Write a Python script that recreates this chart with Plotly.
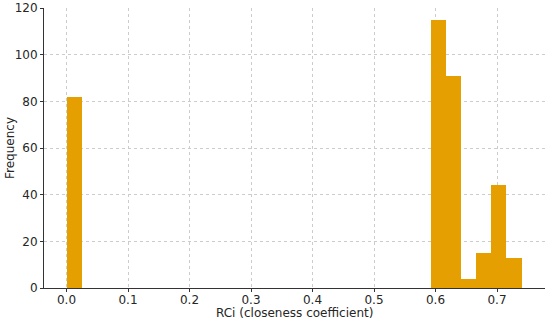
import plotly.graph_objects as go

# histogram bins (left edges) and counts, 30 bins over 0..0.74
BIN_WIDTH = 0.74 / 30
bin_left = [0.0, 24 * BIN_WIDTH, 25 * BIN_WIDTH, 26 * BIN_WIDTH, 27 * BIN_WIDTH, 28 * BIN_WIDTH, 29 * BIN_WIDTH]
counts = [82, 115, 91, 4, 15, 44, 13]
x_ticks = [0.0, 0.1, 0.2, 0.3, 0.4, 0.5, 0.6, 0.7]
y_ticks = [0, 20, 40, 60, 80, 100, 120]

BAR_COLOR = "#E69F00"
TEXT_COLOR = "#262626"
GRID_COLOR = "#cccccc"

fig = go.Figure()
fig.add_trace(
    go.Bar(
        x=[b + BIN_WIDTH / 2 for b in bin_left],
        y=counts,
        width=BIN_WIDTH,
        marker=dict(color=BAR_COLOR, line_width=0),
        showlegend=False,
    )
)

fig.update_layout(
    width=550,
    height=322,
    margin=dict(l=44, r=5, t=8, b=34, autoexpand=False),
    paper_bgcolor="white",
    plot_bgcolor="white",
    font=dict(family="DejaVu Sans", size=12, color=TEXT_COLOR),
    bargap=0,
)
fig.update_xaxes(
    range=[-0.0366, 0.778],
    tickvals=x_ticks,
    tickformat=".1f",
    automargin=False,
    showline=True,
    linecolor="#333333",
    linewidth=1,
    ticks="outside",
    ticklen=3,
    tickcolor="#333333",
    ticklabelstandoff=-2,
    showgrid=True,
    gridcolor=GRID_COLOR,
    griddash="dot",
    gridwidth=1,
    zeroline=False,
)
fig.update_yaxes(
    range=[0, 120],
    tickvals=y_ticks,
    automargin=False,
    showline=True,
    linecolor="#333333",
    linewidth=1,
    ticks="outside",
    ticklen=3,
    tickcolor="#333333",
    showgrid=True,
    gridcolor=GRID_COLOR,
    griddash="dot",
    gridwidth=1,
    zeroline=False,
)

# axis titles as annotations so they sit where the reference has them
fig.add_annotation(
    text="RCi (closeness coefficient)", xref="paper", yref="paper",
    x=0.5, y=0, xanchor="center", yanchor="top", yshift=-16,
    showarrow=False, font=dict(size=12),
)
fig.add_annotation(
    text="Frequency", xref="paper", yref="paper",
    x=0, y=0.5, xanchor="center", yanchor="middle", xshift=-34,
    textangle=-90, showarrow=False, font=dict(size=12),
)

# the page body has a default 8px margin; drop it so the figure fills the window
fig.write_html(
    "out.html",
    config={"displayModeBar": False},
    post_script="document.body.style.margin='0';",
)
